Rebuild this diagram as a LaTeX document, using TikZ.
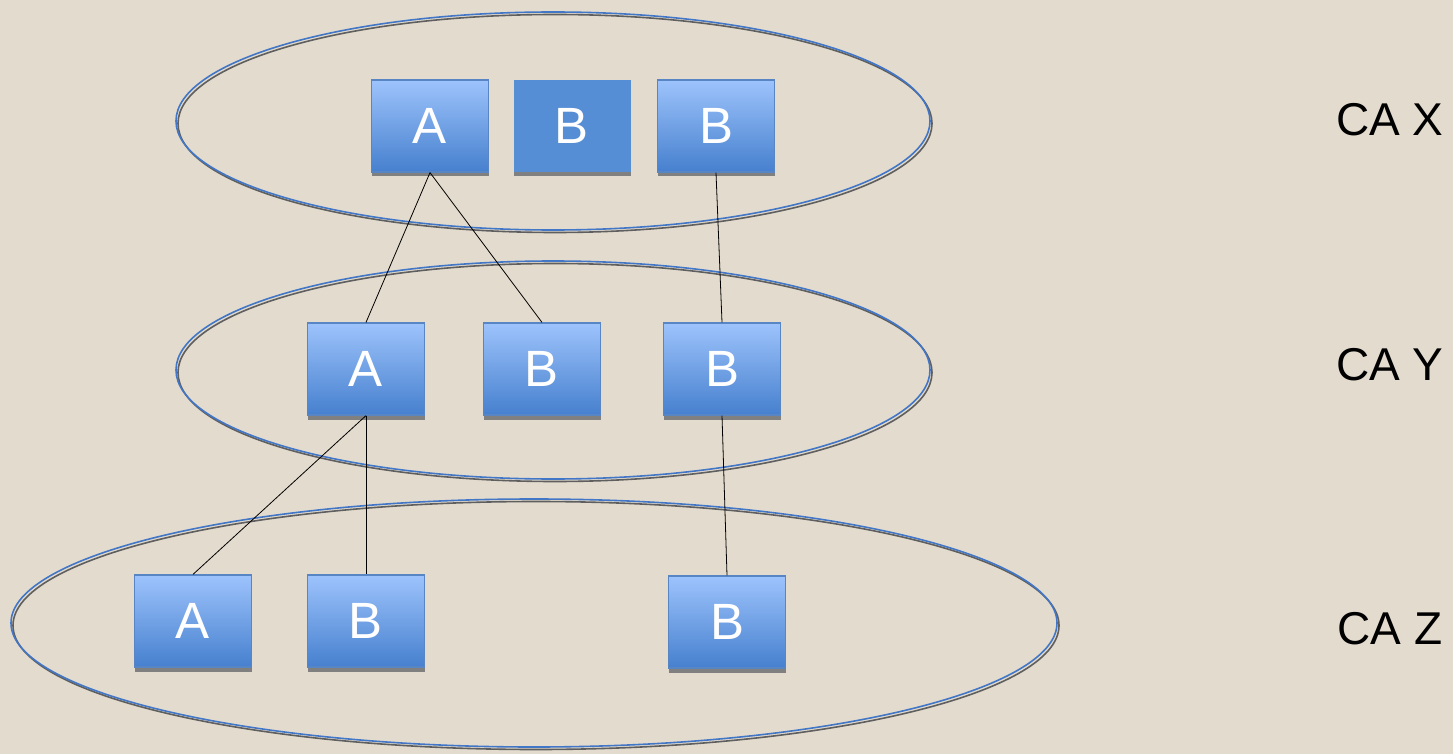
\documentclass[tikz,border=0pt]{standalone}
\usepackage{fontspec}
\setmainfont{Liberation Sans}
\usetikzlibrary{shadows}
\definecolor{bgc}{RGB}{227,219,205}
\definecolor{boxtop}{RGB}{157,195,252}
\definecolor{boxbot}{RGB}{70,128,206}
\definecolor{boxflat}{RGB}{86,142,213}
\definecolor{boxedge}{RGB}{88,134,196}
\definecolor{ellblue}{RGB}{66,118,198}
\definecolor{ellgray}{RGB}{95,95,95}
\definecolor{shad}{RGB}{128,128,128}
\tikzset{
  basebox/.style={minimum width=117pt, minimum height=92pt, inner sep=0pt, text=white,
    font=\fontsize{51}{56}\selectfont,
    general shadow={fill=shad, shadow yshift=-4.5pt}},
  cbox/.style={basebox, draw=boxedge, line width=1.2pt, top color=boxtop, bottom color=boxbot},
  flatbox/.style={basebox, fill=boxflat},
  link/.style={draw=black, line width=0.8pt},
  calabel/.style={font=\fontsize{46}{50}\selectfont, text=black, anchor=center},
  ellb/.style={draw=ellblue, line width=1.6pt},
  ellg/.style={draw=ellgray, line width=1.6pt}
}
\begin{document}
\begin{tikzpicture}[x=1pt,y=-1pt]
\fill[bgc] (0,0) rectangle (1453,754);
\useasboundingbox (0,0) rectangle (1453,754);
% ellipses
\draw[ellg] (555,123.5) ellipse [x radius=377, y radius=109];
\draw[ellb] (553,121) ellipse [x radius=377, y radius=109];
\draw[ellg] (555,372.5) ellipse [x radius=377, y radius=109];
\draw[ellb] (553,370) ellipse [x radius=377, y radius=109];
\draw[ellg] (536,625.5) ellipse [x radius=523, y radius=124];
\draw[ellb] (534,623) ellipse [x radius=523, y radius=124];
% boxes
\node[cbox] (xa) at (430,126) {A};
\node[flatbox] (xb1) at (572,126) {B};
\node[cbox] (xb2) at (716,126) {B};
\node[cbox] (ya) at (366,369) {A};
\node[cbox] (yb1) at (542,369) {B};
\node[cbox] (yb2) at (722,369) {B};
\node[cbox] (za) at (193,621) {A};
\node[cbox] (zb1) at (366,621) {B};
\node[cbox] (zb2) at (727,622) {B};
% links
\draw[link] (xa.south) -- (ya.north);
\draw[link] (xa.south) -- (yb1.north);
\draw[link] (xb2.south) -- (yb2.north);
\draw[link] (ya.south) -- (za.north);
\draw[link] (ya.south) -- (zb1.north);
\draw[link] (yb2.south) -- (zb2.north);
% labels
\node[calabel] (lx) at (1390,120) {CA X};
\node[calabel] (ly) at (1390,365) {CA Y};
\node[calabel] (lz) at (1390,629) {CA Z};
\end{tikzpicture}
\end{document}
